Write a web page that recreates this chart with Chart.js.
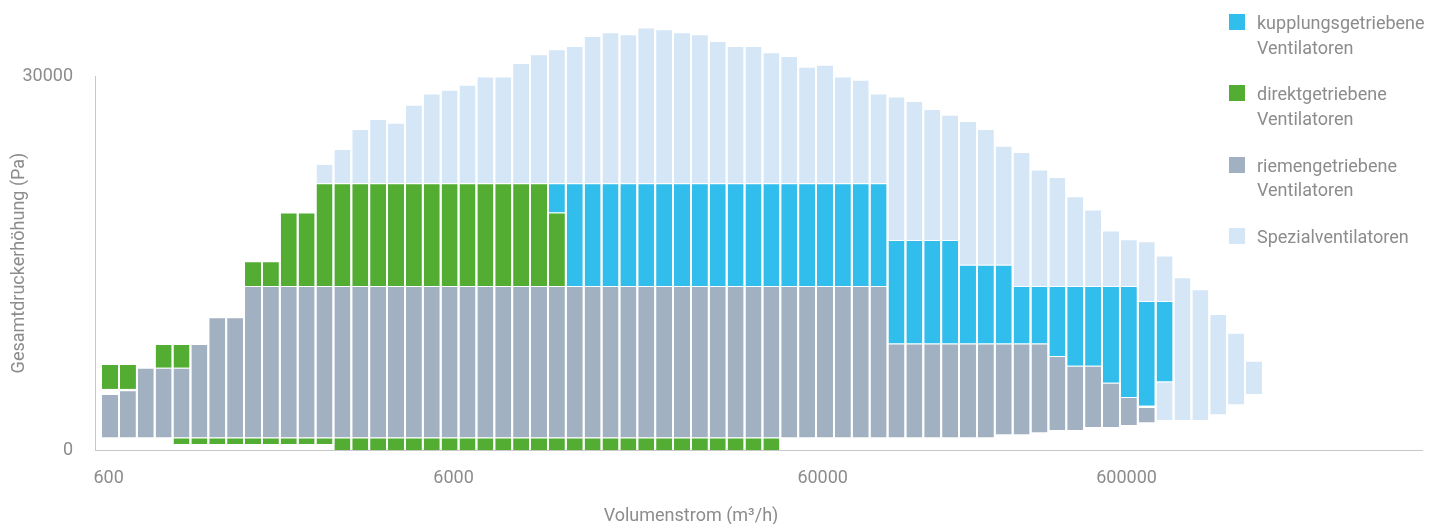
<!DOCTYPE html>
<html lang="de">
<head>
<meta charset="utf-8">
<title>Ventilatoren – Einsatzbereiche</title>
<script src="https://cdn.jsdelivr.net/npm/chart.js@4.4.1/dist/chart.umd.min.js"></script>
<style>
  html, body { margin: 0; padding: 0; background: #fff; }
  #wrap { position: relative; width: 1440px; height: 524px; }
  #chart { position: absolute; left: 0; top: 0; }
  #legend { position: absolute; left: 1229px; top: 14px; margin: 0; padding: 0; list-style: none;
            font: 18px Roboto, sans-serif; color: #8c8c8c; }
  #legend li { position: relative; height: 71.3px; padding-left: 28px; }
  #legend .sw { position: absolute; left: 0; top: 0; width: 16px; height: 16px; }
  #legend .tx { display: block; position: relative; top: -3px; line-height: 24.5px; white-space: pre-line; }
</style>
</head>
<body>
<div id="wrap">
  <canvas id="chart" width="1440" height="524"></canvas>
  <ul id="legend"></ul>
</div>
<script>
'use strict';

// Volumenstrom columns 0..64 (log-spaced), values are [von, bis] in Pa
const riemen = [
  [1000, 4500], [1000, 4800], [1000, 6600], [1000, 6600], [1000, 6600],
  [1000, 8500], [1000, 10650], [1000, 10650], [1000, 13150], [1000, 13150],
  [1000, 13150], [1000, 13150], [1000, 13150], [1000, 13150], [1000, 13150],
  [1000, 13150], [1000, 13150], [1000, 13150], [1000, 13150], [1000, 13150],
  [1000, 13150], [1000, 13150], [1000, 13150], [1000, 13150], [1000, 13150],
  [1000, 13150], [1000, 13150], [1000, 13150], [1000, 13150], [1000, 13150],
  [1000, 13150], [1000, 13150], [1000, 13150], [1000, 13150], [1000, 13150],
  [1000, 13150], [1000, 13150], [1000, 13150], [1000, 13150], [1000, 13150],
  [1000, 13150], [1000, 13150], [1000, 13150], [1000, 13150], [1000, 8550],
  [1000, 8550], [1000, 8550], [1000, 8550], [1000, 8550], [1000, 8550],
  [1250, 8550], [1250, 8550], [1400, 8550], [1600, 7550], [1600, 6750],
  [1850, 6750], [1850, 5400], [2000, 4250], [2200, 3450], null,
  null, null, null, null, null
];

const direkt = [
  [4900, 6900], [4900, 6900], null, [6600, 8500], [6600, 8500],
  null, null, null, [13150, 15150], [13150, 15150],
  [13150, 19050], [13150, 19050], [13150, 21400], [13150, 21400], [13150, 21400],
  [13150, 21400], [13150, 21400], [13150, 21400], [13150, 21400], [13150, 21400],
  [13150, 21400], [13150, 21400], [13150, 21400], [13150, 21400], [13150, 21400],
  [13150, 19050], null, null, null, null,
  null, null, null, null, null, null, null, null, null, null,
  null, null, null, null, null, null, null, null, null, null,
  null, null, null, null, null, null, null, null, null, null,
  null, null, null, null, null
];

// schmaler Streifen direktgetriebener Ventilatoren unten
const direktUnten = [
  null, null, null, null, [480, 1000],
  [480, 1000], [480, 1000], [480, 1000], [480, 1000], [480, 1000],
  [480, 1000], [480, 1000], [480, 1000], [0, 1000], [0, 1000],
  [0, 1000], [0, 1000], [0, 1000], [0, 1000], [0, 1000],
  [0, 1000], [0, 1000], [0, 1000], [0, 1000], [0, 1000],
  [0, 1000], [0, 1000], [0, 1000], [0, 1000], [0, 1000],
  [0, 1000], [0, 1000], [0, 1000], [0, 1000], [0, 1000],
  [0, 1000], [0, 1000], [0, 1000], null, null,
  null, null, null, null, null, null, null, null, null, null,
  null, null, null, null, null, null, null, null, null, null,
  null, null, null, null, null
];

const kupplung = [
  null, null, null, null, null, null, null, null, null, null,
  null, null, null, null, null, null, null, null, null, null,
  null, null, null, null, null,
  [19050, 21400], [13150, 21400], [13150, 21400], [13150, 21400], [13150, 21400],
  [13150, 21400], [13150, 21400], [13150, 21400], [13150, 21400], [13150, 21400],
  [13150, 21400], [13150, 21400], [13150, 21400], [13150, 21400], [13150, 21400],
  [13150, 21400], [13150, 21400], [13150, 21400], [13150, 21400], [8550, 16850],
  [8550, 16850], [8550, 16850], [8550, 16850], [8550, 14850], [8550, 14850],
  [8550, 14850], [8550, 13150], [8550, 13150], [7550, 13150], [6750, 13150],
  [6750, 13150], [5400, 13150], [4250, 13150], [3550, 11950], [5500, 11950],
  null, null, null, null, null
];

const spezial = [
  null, null, null, null, null, null, null, null, null, null,
  null, null, [21400, 22950], [21400, 24150], [21400, 25750],
  [21400, 26550], [21400, 26250], [21400, 27700], [21400, 28600], [21400, 28900],
  [21400, 29300], [21400, 29950], [21400, 29950], [21400, 31050], [21400, 31750],
  [21400, 32150], [21400, 32400], [21400, 33200], [21400, 33500], [21400, 33350],
  [21400, 33900], [21400, 33750], [21400, 33500], [21400, 33350], [21400, 32800],
  [21400, 32400], [21400, 32400], [21400, 31900], [21400, 31600], [21400, 30750],
  [21400, 30900], [21400, 29950], [21400, 29700], [21400, 28600], [16850, 28350],
  [16850, 28000], [16850, 27350], [16850, 26900], [14850, 26400], [14850, 25750],
  [14850, 24400], [13150, 23900], [13150, 22500], [13150, 21900], [13150, 20350],
  [13150, 19300], [13150, 17600], [13150, 16900], [11950, 16750], [11950, 15600],
  [2400, 13850], [2400, 12900], [2850, 10900], [3650, 9400], [4500, 7150]
];

const spezialUnten = [
  null, null, null, null, null, null, null, null, null, null,
  null, null, null, null, null, null, null, null, null, null,
  null, null, null, null, null, null, null, null, null, null,
  null, null, null, null, null, null, null, null, null, null,
  null, null, null, null, null, null, null, null, null, null,
  null, null, null, null, null, null, null, null, null, [2400, 5500],
  null, null, null, null, null
];

// axis labels
const xTickLabels = ['600', '6000', '60000', '600000'];
const xTickPos    = [-0.08, 19.22, 39.87, 56.87];   // column units
const yTickValues = [0, 30000];
const yTickLabels = ['0', '30000'];
const xTitle = 'Volumenstrom (m³/h)';
const yTitle = 'Gesamtdruckerhöhung (Pa)';

const COLORS = {
  kupplung: '#31BEEC',
  direkt:   '#52AD32',
  riemen:   '#A1B1C1',
  spezial:  '#D5E7F7'
};
const TEXT = '#8c8c8c';
const AXIS = '#c8c8c8';
const FONT = 'Roboto, sans-serif';

function toPoints(ranges) {
  return ranges.map((r, i) => r ? { x: i, y: r } : null).filter(Boolean);
}

const barStyle = {
  grouped: false,
  clip: false,
  barPercentage: 0.895,
  categoryPercentage: 1,
  borderColor: '#fff',
  borderWidth: { top: 1, right: 0, bottom: 0, left: 0 },
  borderSkipped: false
};

const datasets = [
  Object.assign({ label: 'kupplungsgetriebene\nVentilatoren', data: toPoints(kupplung),
                  backgroundColor: COLORS.kupplung }, barStyle),
  Object.assign({ label: 'direktgetriebene\nVentilatoren', data: toPoints(direkt).concat(toPoints(direktUnten)),
                  backgroundColor: COLORS.direkt }, barStyle),
  Object.assign({ label: 'riemengetriebene\nVentilatoren', data: toPoints(riemen),
                  backgroundColor: COLORS.riemen }, barStyle),
  Object.assign({ label: 'Spezialventilatoren', data: toPoints(spezial).concat(toPoints(spezialUnten)),
                  backgroundColor: COLORS.spezial }, barStyle)
];

// x axis title sits left of the axis centre in the original
const xTitlePlugin = {
  id: 'xTitle',
  afterDraw(chart) {
    const { ctx, chartArea } = chart;
    ctx.save();
    ctx.font = '18px ' + FONT;
    ctx.fillStyle = TEXT;
    ctx.textAlign = 'center';
    ctx.textBaseline = 'alphabetic';
    ctx.fillText(xTitle, chartArea.left + 596, chart.height - 3);
    ctx.restore();
  }
};

function renderLegend(chart) {
  const el = document.getElementById('legend');
  el.innerHTML = chart.data.datasets.map(ds => `
    <li><span class="sw" style="background:${ds.backgroundColor}"></span><span class="tx">${ds.label}</span></li>`).join('');
}

Chart.defaults.font.family = FONT;
Chart.defaults.color = TEXT;

const chart = new Chart(document.getElementById('chart').getContext('2d'), {
  type: 'bar',
  data: { datasets },
  options: {
    responsive: false,
    animation: false,
    layout: { padding: { top: 76, right: 18, bottom: 0, left: 0 } },
    plugins: { legend: { display: false }, tooltip: { enabled: false } },
    scales: {
      x: {
        type: 'linear',
        bounds: 'data',
        offset: false,
        min: -0.84,
        max: 73.4,
        grid: { display: false, drawTicks: false },
        border: { display: true, color: AXIS, width: 1 },
        afterBuildTicks: scale => { scale.ticks = xTickPos.map(v => ({ value: v })); },
        afterFit: scale => { scale.height = 74; },
        ticks: {
          autoSkip: false, maxRotation: 0, padding: 18,
          color: TEXT, font: { size: 18 },
          callback: (v, i) => xTickLabels[i]
        }
      },
      y: {
        min: 0,
        max: 30000,
        grid: { display: false, drawTicks: false },
        border: { display: true, color: AXIS, width: 1 },
        afterBuildTicks: scale => { scale.ticks = yTickValues.map(v => ({ value: v })); },
        afterFit: scale => { scale.width = 95; },
        ticks: {
          autoSkip: false, padding: 22,
          color: TEXT, font: { size: 18 },
          callback: (v, i) => yTickLabels[i]
        },
        title: {
          display: true, text: yTitle, color: TEXT,
          font: { size: 18 }, padding: { top: 9, bottom: 0 }
        }
      }
    }
  },
  plugins: [xTitlePlugin]
});

renderLegend(chart);
</script>
</body>
</html>
